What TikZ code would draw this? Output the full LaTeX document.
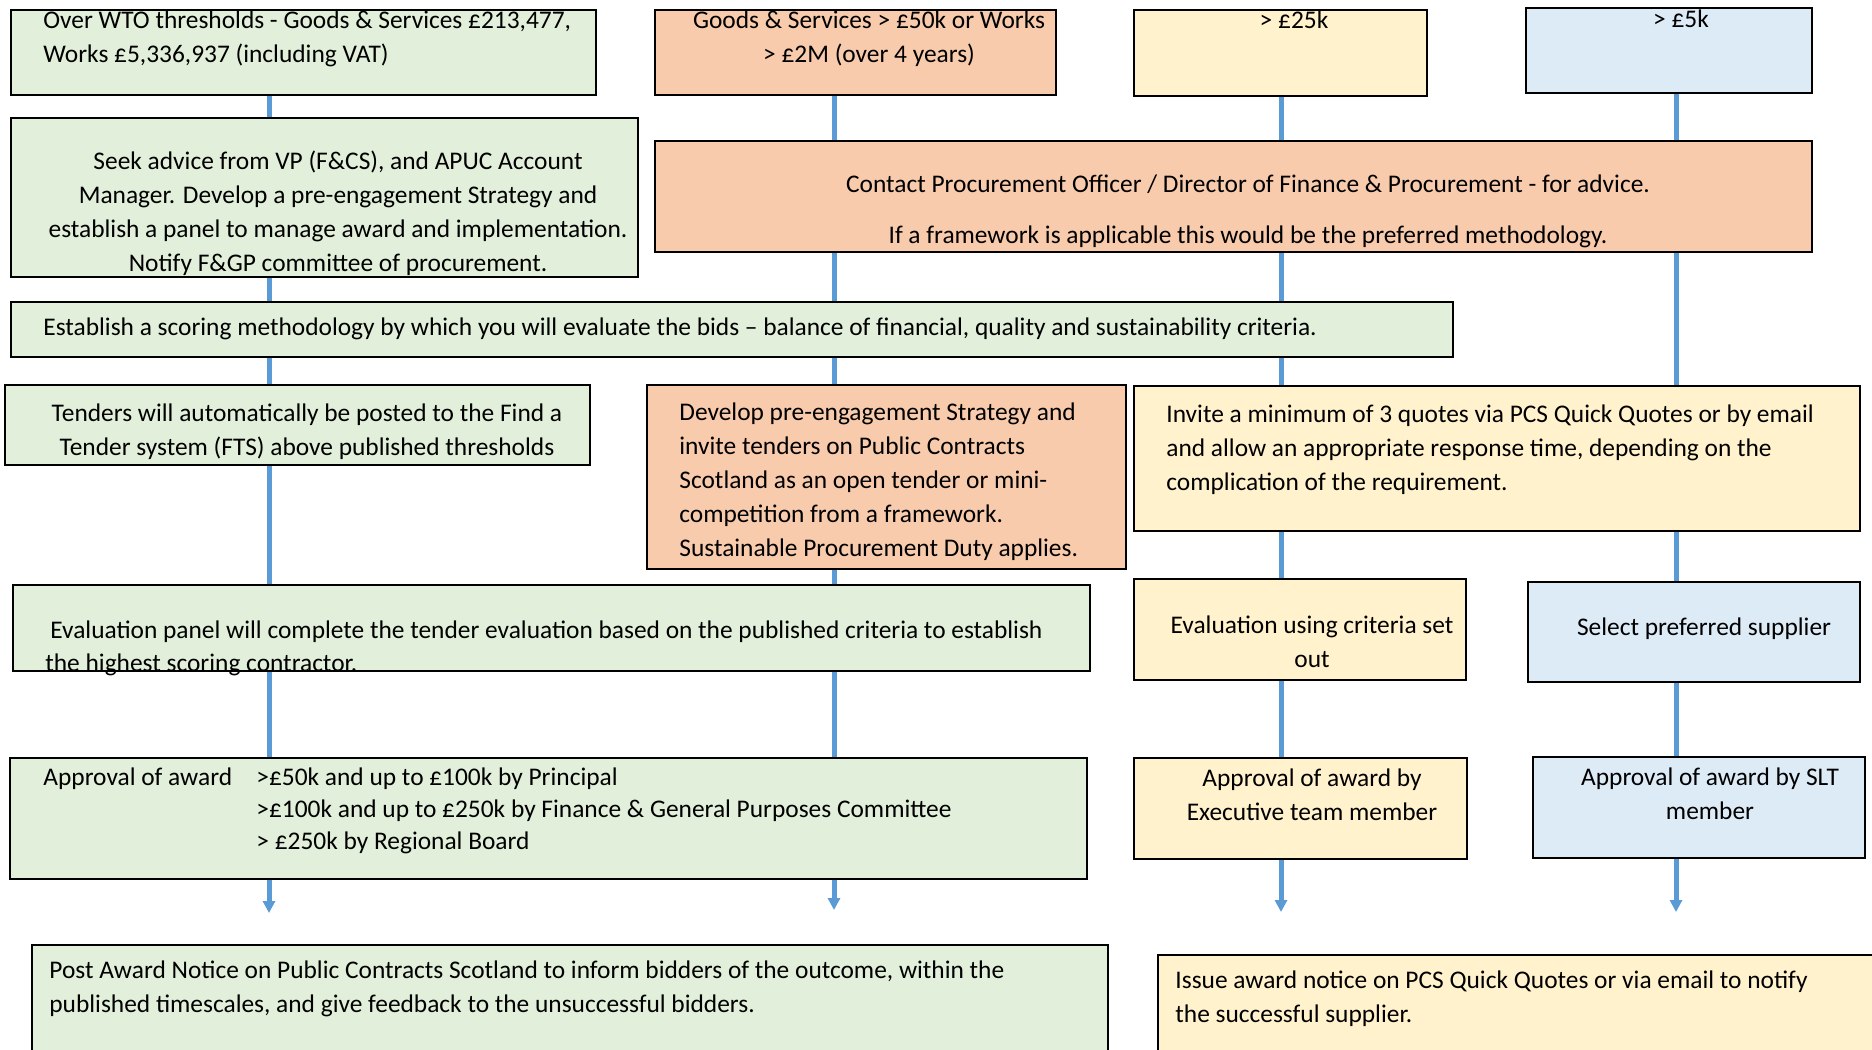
\documentclass[tikz,border=0pt]{standalone}
\usepackage{fontspec}
\setmainfont{Carlito}
\usetikzlibrary{arrows.meta}

\definecolor{boxgreen}{HTML}{E2EFDA}
\definecolor{boxorange}{HTML}{F8CBAD}
\definecolor{boxyellow}{HTML}{FFF2CC}
\definecolor{boxblue}{HTML}{DDEBF7}
\definecolor{linkblue}{HTML}{5B9BD5}

\begin{document}
\begin{tikzpicture}[x=0.5pt, y=-0.5pt, >={Triangle[width=6pt,length=6pt]},
		box/.style={draw=black, line width=1pt, anchor=north west, inner sep=0pt},
		gbox/.style={box, fill=boxgreen},
		obox/.style={box, fill=boxorange},
		ybox/.style={box, fill=boxyellow},
		bbox/.style={box, fill=boxblue},
		txt/.style={font=\fontsize{12.7}{17}\selectfont, inner sep=0pt},
		link/.style={draw=linkblue, line width=2.5pt}]
	
	\useasboundingbox (0,0) rectangle (1872,1049);
	\clip (0,0) rectangle (1872,1049);
	
	% --- columns of the connectors ---
	\coordinate (colA) at (269,0);
	\coordinate (colB) at (834,0);
	\coordinate (colC) at (1281,0);
	\coordinate (colD) at (1676,0);
	
	% --- top row: thresholds (text nodes sit on the baseline of their last line) ---
	\node[gbox, minimum width=292.5pt, minimum height=42.5pt] (wto) at (10,9) {};
	\node[obox, minimum width=200.5pt, minimum height=42.5pt] (goods) at (654,9) {};
	\node[ybox, minimum width=146.5pt, minimum height=43pt] (over25) at (1133,9) {};
	\node[bbox, minimum width=143pt, minimum height=42.5pt] (over5) at (1525,7) {};
	
	\node[txt, anchor=base west, align=left] (wtotext) at (43,62)
		{Over WTO thresholds - Goods \& Services £213,477,\\Works £5,336,937 (including VAT)};
	\node[txt, anchor=base, align=center] (goodstext) at (869,62)
		{Goods \& Services > £50k or Works\\> £2M (over 4 years)};
	\node[txt, anchor=base] (over25text) at (1294,28) {> £25k};
	\node[txt, anchor=base] (over5text) at (1681,27) {> £5k};
	
	% --- advice ---
	\node[gbox, minimum width=313.5pt, minimum height=79.5pt] (seek) at (10,117) {};
	\node[txt, anchor=base, align=center] (seektext) at (338,271)
		{Seek advice from VP (F\&CS), and APUC Account\\Manager. Develop a pre-engagement Strategy and\\establish a panel to manage award and implementation.\\Notify F\&GP committee of procurement.};
	
	\node[obox, minimum width=578.5pt, minimum height=55.5pt] (contact) at (654,140) {};
	\node[txt, anchor=base] (contacttext) at (1248,192)
		{Contact Procurement Officer / Director of Finance \& Procurement - for advice.};
	\node[txt, anchor=base] (frametext) at (1248,243)
		{If a framework is applicable this would be the preferred methodology.};
	
	% --- scoring ---
	\node[gbox, minimum width=721pt, minimum height=27.5pt] (scoring) at (10,301) {};
	\node[txt, anchor=base west] (scoringtext) at (43,335)
		{Establish a scoring methodology by which you will evaluate the bids -- balance of financial, quality and sustainability criteria.};
	
	% --- tendering / quotes ---
	\node[gbox, minimum width=292.5pt, minimum height=40pt] (fts) at (4,384) {};
	\node[txt, anchor=base, align=center] (ftstext) at (307,455)
		{Tenders will automatically be posted to the Find a\\Tender system (FTS) above published thresholds};
	
	\node[obox, minimum width=239.5pt, minimum height=92pt] (develop) at (646,384) {};
	\node[txt, anchor=base west, align=left] (developtext) at (679,556)
		{Develop pre-engagement Strategy and\\invite tenders on Public Contracts\\Scotland as an open tender or mini-\\competition from a framework.\\Sustainable Procurement Duty applies.};
	
	\node[ybox, minimum width=363pt, minimum height=72.5pt] (invite) at (1133,385) {};
	\node[txt, anchor=base west, align=left] (invitetext) at (1166,490)
		{Invite a minimum of 3 quotes via PCS Quick Quotes or by email\\and allow an appropriate response time, depending on the\\complication of the requirement.};
	
	% --- evaluation ---
	\node[gbox, minimum width=538.5pt, minimum height=43pt] (panel) at (12,584) {};
	\node[txt, anchor=base west] (paneltext) at (50,638)
		{Evaluation panel will complete the tender evaluation based on the published criteria to establish};
	\node[txt, anchor=base west] (paneltext2) at (45,671) {the highest scoring contractor.};
	
	\node[ybox, minimum width=166pt, minimum height=50.5pt] (evalq) at (1133,578) {};
	\node[txt, anchor=base, align=center] (evalqtext) at (1312,667)
		{Evaluation using criteria set\\out};
	
	\node[bbox, minimum width=166pt, minimum height=50pt] (select) at (1527,581) {};
	\node[txt, anchor=base] (selecttext) at (1704,635) {Select preferred supplier};
	
	% --- approval ---
	\node[gbox, minimum width=538.5pt, minimum height=60.5pt] (approval) at (9,757) {};
	\node[txt, anchor=base west] (approvaltext) at (43,785) {Approval of award};
	\node[txt, anchor=base west, align=left, font=\fontsize{12.7}{16}\selectfont] (limitstext) at (256,849)
		{>£50k and up to £100k by Principal\\>£100k and up to £250k by Finance \& General Purposes Committee\\> £250k by Regional Board};
	
	\node[ybox, minimum width=166.5pt, minimum height=50.5pt] (exec) at (1133,757) {};
	\node[txt, anchor=base, align=center] (exectext) at (1312,820)
		{Approval of award by\\Executive team member};
	
	\node[bbox, minimum width=166pt, minimum height=50.5pt] (slt) at (1532,756) {};
	\node[txt, anchor=base, align=center] (slttext) at (1710,819)
		{Approval of award by SLT\\member};
	
	% --- award notices ---
	\node[gbox, minimum width=538pt, minimum height=63pt] (post) at (31,944) {};
	\node[txt, anchor=base west, align=left] (posttext) at (49,1012)
		{Post Award Notice on Public Contracts Scotland to inform bidders of the outcome, within the\\published timescales, and give feedback to the unsuccessful bidders.};
	
	\node[ybox, minimum width=366.5pt, minimum height=58pt] (issue) at (1157,954) {};
	\node[txt, anchor=base west, align=left] (issuetext) at (1175,1022)
		{Issue award notice on PCS Quick Quotes or via email to notify\\the successful supplier.};
	
	% --- connectors ---
	\coordinate (endA) at (269,913);
	\coordinate (endB) at (834,910);
	\coordinate (endC) at (1281,912);
	\coordinate (endD) at (1676,912);
	
	\draw[link] (wto.south -| colA) -- (seek.north -| colA);
	\draw[link] (seek.south -| colA) -- (scoring.north -| colA);
	\draw[link] (scoring.south -| colA) -- (fts.north -| colA);
	\draw[link] (fts.south -| colA) -- (panel.north -| colA);
	\draw[link] (panel.south -| colA) -- (approval.north -| colA);
	\draw[link,->] (approval.south -| colA) -- (endA);
	
	\draw[link] (goods.south -| colB) -- (contact.north -| colB);
	\draw[link] (contact.south -| colB) -- (scoring.north -| colB);
	\draw[link] (scoring.south -| colB) -- (develop.north -| colB);
	\draw[link] (develop.south -| colB) -- (panel.north -| colB);
	\draw[link] (panel.south -| colB) -- (approval.north -| colB);
	\draw[link,->] (approval.south -| colB) -- (endB);
	
	\draw[link] (over25.south -| colC) -- (contact.north -| colC);
	\draw[link] (contact.south -| colC) -- (scoring.north -| colC);
	\draw[link] (scoring.south -| colC) -- (invite.north -| colC);
	\draw[link] (invite.south -| colC) -- (evalq.north -| colC);
	\draw[link] (evalq.south -| colC) -- (exec.north -| colC);
	\draw[link,->] (exec.south -| colC) -- (endC);
	
	\draw[link] (over5.south -| colD) -- (contact.north -| colD);
	\draw[link] (contact.south -| colD) -- (invite.north -| colD);
	\draw[link] (invite.south -| colD) -- (select.north -| colD);
	\draw[link] (select.south -| colD) -- (slt.north -| colD);
	\draw[link,->] (slt.south -| colD) -- (endD);
	
\end{tikzpicture}
\end{document}
